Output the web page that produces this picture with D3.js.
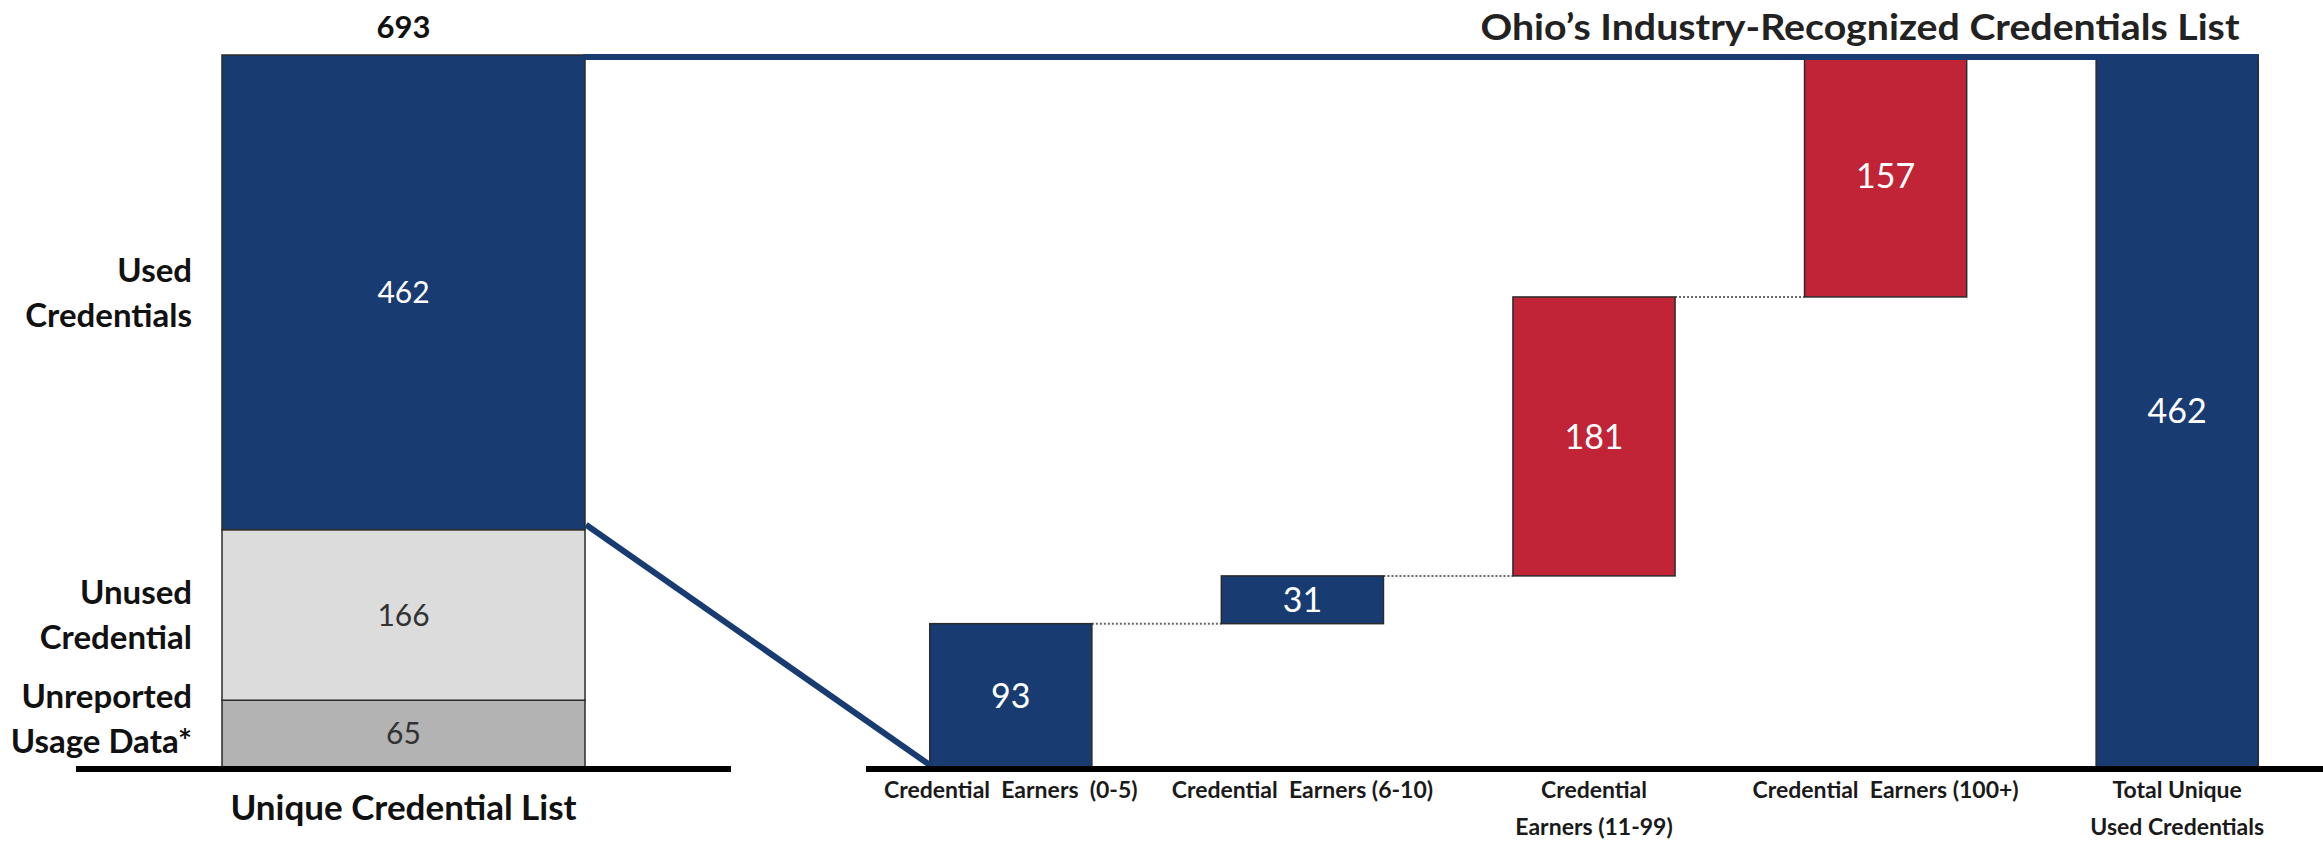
<!DOCTYPE html>
<html>
<head>
<meta charset="utf-8">
<script src="https://cdn.jsdelivr.net/npm/d3@7"></script>
<style>
  body { margin: 0; background: #fff; }
  svg { display: block; }
</style>
</head>
<body>
<div id="chart"></div>
<script>
// Left stacked bar: the full credential list (top to bottom)
const listCategories = ["Used Credentials", "Unused Credential", "Unreported Usage Data*"]
const listLabelLines = [["Used", "Credentials"], ["Unused", "Credential"], ["Unreported", "Usage Data*"]]
const listValues = [462, 166, 65]
const listTotal = 693

// Right waterfall: used credentials by number of earners
const stepCategories = ["Credential Earners (0-5)", "Credential Earners (6-10)", "Credential Earners (11-99)", "Credential Earners (100+)", "Total Unique Used Credentials"]
const stepLabelLines = [["Credential  Earners  (0-5)"], ["Credential  Earners (6-10)"], ["Credential", "Earners (11-99)"], ["Credential  Earners (100+)"], ["Total Unique", "Used Credentials"]]
const stepValues = [93, 31, 181, 157]
const usedTotal = 462

const NAVY = "#183c72"
const RED = "#c02436"
const listColors = [NAVY, "#dcdcdc", "#b3b3b3"]
const listTextColors = ["#ffffff", "#333333", "#333333"]
const stepColors = [NAVY, NAVY, RED, RED, NAVY]

const width = 2323
const height = 847
const baseY = 767
const topY = 55

const svg = d3.select("#chart").append("svg")
  .attr("width", width)
  .attr("height", height)

// ---- left stacked bar ----
const yLeft = d3.scaleLinear().domain([0, listTotal]).range([baseY, topY])
const xLeft = d3.scaleBand().domain(["Unique Credential List"]).range([222, 585])

// stack from the bottom segment upwards
let acc = 0
const stacked = []
for (let i = listValues.length - 1; i >= 0; i--) {
  stacked.push({ key: listCategories[i], lines: listLabelLines[i], v: listValues[i], y0: acc, y1: acc + listValues[i], i })
  acc += listValues[i]
}

const left = svg.append("g")

left.selectAll("rect.seg")
  .data(stacked)
  .join("rect")
  .attr("class", "seg")
  .attr("x", xLeft("Unique Credential List"))
  .attr("width", xLeft.bandwidth())
  .attr("y", d => yLeft(d.y1))
  .attr("height", d => yLeft(d.y0) - yLeft(d.y1))
  .attr("fill", d => listColors[d.i])
  .attr("stroke", "#2b2b2b")
  .attr("stroke-width", 1.5)

left.selectAll("text.val")
  .data(stacked)
  .join("text")
  .attr("class", "val")
  .attr("x", xLeft("Unique Credential List") + xLeft.bandwidth() / 2)
  .attr("y", d => yLeft((d.y0 + d.y1) / 2))
  .attr("dy", "0.36em")
  .attr("text-anchor", "middle")
  .attr("font-family", "Lato, 'Noto Sans', sans-serif")
  .attr("font-size", 30)
  .attr("fill", d => listTextColors[d.i])
  .text(d => d.v)

// category labels to the left of the stack
stacked.forEach(d => {
  const mid = Math.min(yLeft((d.y0 + d.y1) / 2), baseY - 48)
  const t = left.append("text")
    .attr("text-anchor", "end")
    .attr("font-family", "Lato, 'Noto Sans', sans-serif")
    .attr("font-weight", 700)
    .attr("font-size", 33)
    .attr("fill", "#111")
  d.lines.forEach((line, j) => {
    t.append("tspan")
      .attr("x", 192)
      .attr("y", mid + (j - (d.lines.length - 1) / 2) * 45)
      .attr("dy", "0.36em")
      .text(line)
  })
})

// total on top
left.append("text")
  .attr("x", xLeft("Unique Credential List") + xLeft.bandwidth() / 2)
  .attr("y", 27)
  .attr("dy", "0.36em")
  .attr("text-anchor", "middle")
  .attr("font-family", "Lato, 'Noto Sans', sans-serif")
  .attr("font-weight", 700)
  .attr("font-size", 31)
  .attr("fill", "#111")
  .text(listTotal)

left.append("text")
  .attr("x", xLeft("Unique Credential List") + xLeft.bandwidth() / 2)
  .attr("y", 807)
  .attr("dy", "0.36em")
  .attr("text-anchor", "middle")
  .attr("font-family", "Lato, 'Noto Sans', sans-serif")
  .attr("font-weight", 700)
  .attr("font-size", 35)
  .attr("fill", "#111")
  .text("Unique Credential List")

// ---- right waterfall ----
const yRight = d3.scaleLinear().domain([0, usedTotal]).range([baseY, topY])
const xRight = d3.scaleBand()
  .domain(stepCategories)
  .range([865, 2323])
  .paddingInner(0.444)
  .paddingOuter(0.222)

let run = 0
const steps = stepValues.map((v, i) => {
  const d = { key: stepCategories[i], v, y0: run, y1: run + v, i }
  run += v
  return d
})
steps.push({ key: stepCategories[4], v: usedTotal, y0: 0, y1: usedTotal, i: 4 })

const right = svg.append("g")

// dotted connectors between consecutive steps
right.selectAll("line.conn")
  .data(steps.slice(0, 3))
  .join("line")
  .attr("class", "conn")
  .attr("x1", d => xRight(d.key) + xRight.bandwidth())
  .attr("x2", d => xRight(stepCategories[d.i + 1]))
  .attr("y1", d => yRight(d.y1))
  .attr("y2", d => yRight(d.y1))
  .attr("stroke", "#666")
  .attr("stroke-width", 2)
  .attr("stroke-dasharray", "2,2")

right.selectAll("rect.step")
  .data(steps)
  .join("rect")
  .attr("class", "step")
  .attr("x", d => xRight(d.key))
  .attr("width", xRight.bandwidth())
  .attr("y", d => yRight(d.y1))
  .attr("height", d => yRight(d.y0) - yRight(d.y1))
  .attr("fill", d => stepColors[d.i])
  .attr("stroke", "#2b2b2b")
  .attr("stroke-width", 1.5)

right.selectAll("text.val")
  .data(steps)
  .join("text")
  .attr("class", "val")
  .attr("x", d => xRight(d.key) + xRight.bandwidth() / 2)
  .attr("y", d => yRight((d.y0 + d.y1) / 2))
  .attr("dy", "0.36em")
  .attr("text-anchor", "middle")
  .attr("font-family", "Lato, 'Noto Sans', sans-serif")
  .attr("font-size", 34)
  .attr("fill", "#ffffff")
  .text(d => d.v)

// category labels below the axis
steps.forEach(d => {
  const t = right.append("text")
    .attr("text-anchor", "middle")
    .attr("font-family", "Lato, 'Noto Sans', sans-serif")
    .attr("font-weight", 700)
    .attr("font-size", 23)
    .attr("fill", "#1a1a1a")
    .attr("xml:space", "preserve")
    .style("white-space", "pre")
  stepLabelLines[d.i].forEach((line, j) => {
    t.append("tspan")
      .attr("x", xRight(d.key) + xRight.bandwidth() / 2)
      .attr("y", 790 + j * 37)
      .attr("dy", "0.36em")
      .text(line)
  })
})

// ---- navy bridge lines linking the used part to the waterfall ----
const leftEdge = xLeft("Unique Credential List") + xLeft.bandwidth()
svg.append("line")
  .attr("x1", leftEdge - 2)
  .attr("y1", yLeft(listTotal) + 2)
  .attr("x2", xRight(stepCategories[4]) + xRight.bandwidth())
  .attr("y2", yRight(usedTotal) + 2)
  .attr("stroke", NAVY)
  .attr("stroke-width", 6)

svg.append("line")
  .attr("x1", leftEdge + 1)
  .attr("y1", yLeft(listValues[1] + listValues[2]) - 5)
  .attr("x2", xRight(stepCategories[0]))
  .attr("y2", yRight(0) - 2)
  .attr("stroke", NAVY)
  .attr("stroke-width", 6)

// baselines
svg.append("line")
  .attr("x1", 76).attr("x2", 731)
  .attr("y1", baseY + 2).attr("y2", baseY + 2)
  .attr("stroke", "#000").attr("stroke-width", 6)

svg.append("line")
  .attr("x1", 866).attr("x2", width)
  .attr("y1", baseY + 2).attr("y2", baseY + 2)
  .attr("stroke", "#000").attr("stroke-width", 6)

// title
svg.append("text")
  .attr("x", 1860)
  .attr("y", 27)
  .attr("dy", "0.36em")
  .attr("text-anchor", "middle")
  .attr("font-family", "Lato, 'Noto Sans', sans-serif")
  .attr("font-weight", 700)
  .attr("font-size", 36)
  .attr("textLength", 759)
  .attr("lengthAdjust", "spacingAndGlyphs")
  .attr("fill", "#222")
  .text("Ohio’s Industry-Recognized Credentials List")
</script>
</body>
</html>
